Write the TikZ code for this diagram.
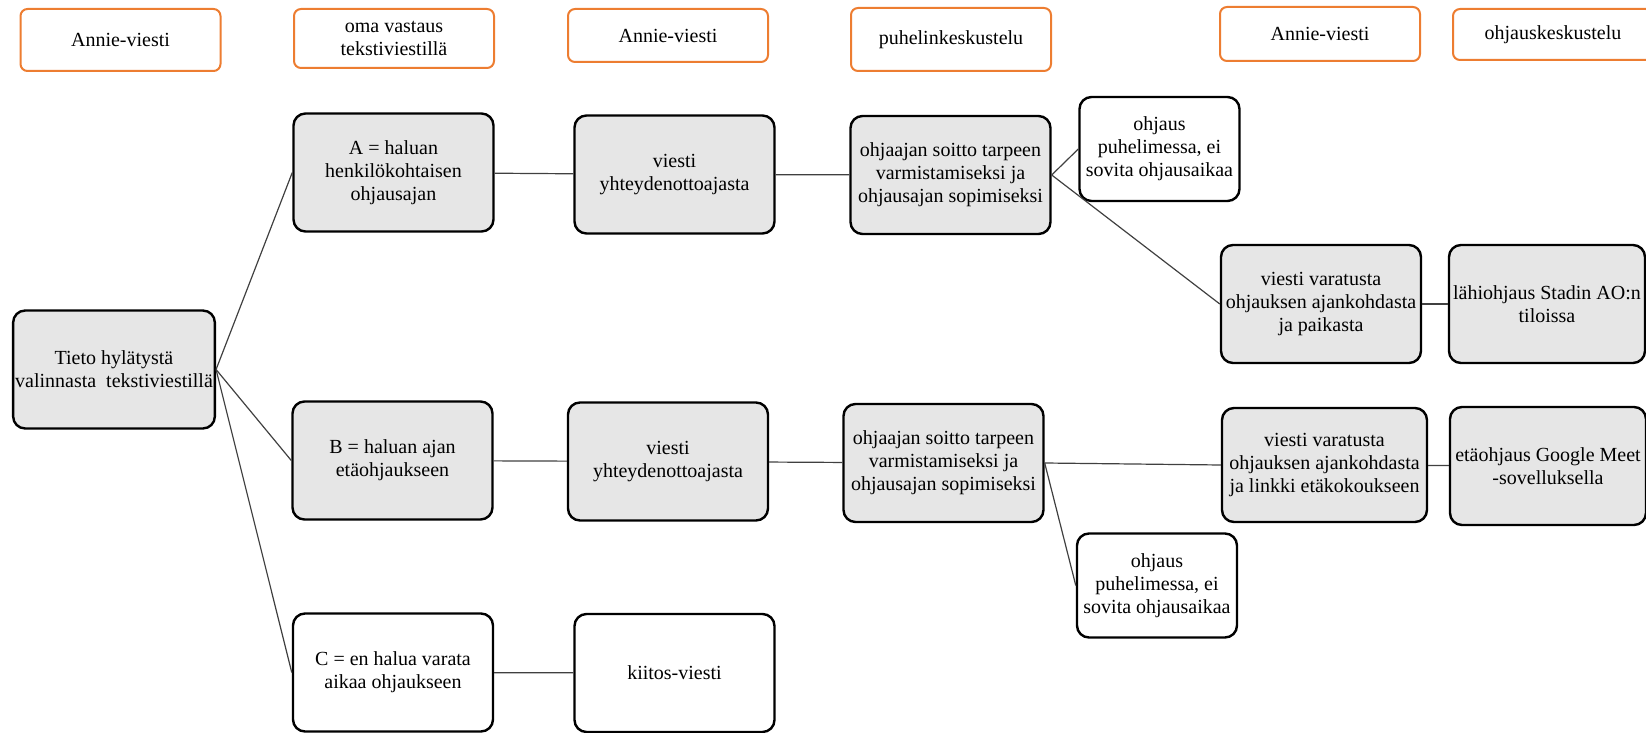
\documentclass[tikz,border=0pt]{standalone}
\usepackage{fontspec}
\setmainfont{Liberation Serif}
\usepackage{tikz}
\definecolor{annieorange}{HTML}{ED7D31}
\definecolor{boxgray}{HTML}{E6E6E6}

\begin{document}
\begin{tikzpicture}[x=0.5pt,y=-0.5pt,
    every node/.style={font=\fontsize{10}{11.5}\selectfont, align=center},
    head/.style={draw=annieorange, line width=1pt, rounded corners=3.5pt, fill=white, minimum width=100pt, minimum height=28pt},
    card/.style={draw=black, line width=1.2pt, rounded corners=6pt, fill=boxgray, minimum width=100pt, minimum height=59pt, inner sep=1pt},
    plain/.style={card, fill=white},
    small/.style={plain, minimum width=80pt, minimum height=52pt},
    link/.style={draw=black!75, line width=0.6pt}]
  \useasboundingbox (0,0) rectangle (1646,733);

  % otsikkorivi
  \node[head, minimum height=31pt] (h1) at (120.5,40) {Annie-viesti};
  \node[head, minimum height=29.5pt] (h2) at (394,38.5) {oma vastaus\\tekstiviestillä};
  \node[head, minimum height=26.5pt] (h3) at (668,35.5) {Annie-viesti};
  \node[head, minimum height=31.5pt] (h4) at (951,39.5) {puhelinkeskustelu};
  \node[head, minimum height=27pt] (h5) at (1320,34) {Annie-viesti};
  \node[head, minimum height=25.5pt] (h6) at (1553,34.5) {ohjauskeskustelu};

  % tieto ja vastaukset
  \node[card] (tieto) at (114,369.5) {Tieto hylätystä\\valinnasta\ \ tekstiviestillä};
  \node[card] (a) at (393.5,172.5) {A = haluan\\henkilökohtaisen\\ohjausajan};
  \node[card] (b) at (392.5,460.5) {B = haluan ajan\\etäohjaukseen};
  \node[plain] (c) at (393,672.5) {C = en halua varata\\aikaa ohjaukseen};

  % Annie-viestit
  \node[card] (viestia) at (674.5,174.5) {viesti\\yhteydenottoajasta};
  \node[card] (viestib) at (668,461.5) {viesti\\yhteydenottoajasta};
  \node[plain] (kiitos) at (674.5,673) {kiitos-viesti};

  % puhelut
  \node[card] (soittoa) at (950.5,175) {ohjaajan soitto tarpeen\\varmistamiseksi ja\\ohjausajan sopimiseksi};
  \node[card] (soittob) at (943.5,463) {ohjaajan soitto tarpeen\\varmistamiseksi ja\\ohjausajan sopimiseksi};
  \node[small] (puha) at (1159.5,149) {ohjaus\\puhelimessa, ei\\sovita ohjausaikaa};
  \node[small] (puhb) at (1157,585.5) {ohjaus\\puhelimessa, ei\\sovita ohjausaikaa};

  % varaukset ja ohjaus
  \node[card] (varausa) at (1321,304) {viesti varatusta\\ohjauksen ajankohdasta\\ja paikasta};
  \node[card, minimum width=102.5pt, minimum height=57pt] (varausb) at (1324.5,465) {viesti varatusta\\ohjauksen ajankohdasta\\ja linkki etäkokoukseen};
  \node[card, minimum width=98pt] (lahi) at (1547,304) {lähiohjaus Stadin AO:n\\tiloissa};
  \node[card, minimum width=98pt] (eta) at (1548,466) {etäohjaus Google Meet\\-sovelluksella};

  \draw[link] (tieto.east) -- (a.west);
  \draw[link] (tieto.east) -- (b.west);
  \draw[link] (tieto.east) -- (c.west);
  \draw[link] (a) -- (viestia);
  \draw[link] (b) -- (viestib);
  \draw[link] (c) -- (kiitos);
  \draw[link] (viestia) -- (soittoa);
  \draw[link] (viestib) -- (soittob);
  \draw[link] (soittoa.east) -- (puha.west);
  \draw[link] (soittoa.east) -- (varausa.west);
  \draw[link] (soittob.east) -- (puhb.west);
  \draw[link] (soittob.east) -- (varausb.west);
  \draw[link] (varausa) -- (lahi);
  \draw[link] (varausb) -- (eta);
\end{tikzpicture}
\end{document}
